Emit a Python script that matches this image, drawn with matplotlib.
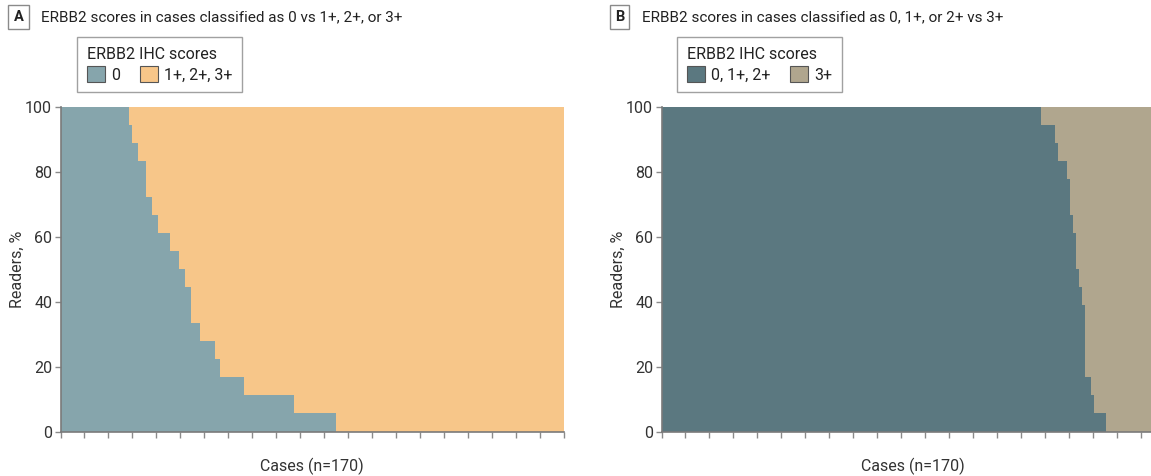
import numpy as np
import matplotlib
matplotlib.use("Agg")
import matplotlib.pyplot as plt
from matplotlib.patches import Patch

plt.rcParams['font.family'] = ['Roboto', 'DejaVu Sans']

N_CASES = 170
N_READERS = 18

# Panel A: number of readers scoring "0" -> how many cases at that level
a_levels = [18, 17, 16, 15, 13, 12, 11, 10, 9, 8, 6, 5, 4, 3, 2, 1, 0]
a_counts = [23, 1, 2, 3, 2, 2, 4, 3, 2, 2, 3, 5, 2, 8, 17, 14, 77]

# Panel B: number of readers scoring "0, 1+, 2+" -> cases at that level
b_levels = [18, 17, 16, 15, 14, 12, 11, 9, 8, 7, 3, 2, 1, 0]
b_counts = [128, 5, 1, 3, 1, 1, 1, 1, 1, 1, 2, 1, 4, 20]

panels = [
    dict(letter="A", title="ERBB2 scores in cases classified as 0 vs 1+, 2+, or 3+",
         levels=a_levels, counts=a_counts, labels=["0", "1+, 2+, 3+"],
         colors=["#86a5ac", "#f7c689"], x0=60.5, legend_x=77, label_x=10),
    dict(letter="B", title="ERBB2 scores in cases classified as 0, 1+, or 2+ vs 3+",
         levels=b_levels, counts=b_counts, labels=["0, 1+, 2+", "3+"],
         colors=["#5b7880", "#b0a68e"], x0=661.5, legend_x=677, label_x=611),
]

W, H = 1151, 476
fig = plt.figure(figsize=(W / 100, H / 100), dpi=100)

for p in panels:
    ax = fig.add_axes([p["x0"] / W, (H - 431.5) / H, 503.5 / W, 324.2 / H])
    pct = np.repeat(np.array(p["levels"]) / N_READERS * 100, p["counts"])
    edges = np.arange(N_CASES + 1)
    ax.stairs(pct, edges, baseline=0, fill=True, color=p["colors"][0], lw=0)
    ax.stairs(np.full(N_CASES, 100.0), edges, baseline=pct, fill=True,
              color=p["colors"][1], lw=0)
    ax.set_xlim(0, N_CASES)
    ax.set_ylim(0, 100)
    ax.set_xticks(np.linspace(0, N_CASES, 22))
    ax.set_xticklabels([])
    ax.set_yticks([0, 20, 40, 60, 80, 100])
    for s in ["top", "right"]:
        ax.spines[s].set_visible(False)
    for s in ["left", "bottom"]:
        ax.spines[s].set_color("#7a7a7a")
        ax.spines[s].set_linewidth(1.2)
    ax.tick_params(direction="out", length=4, width=1, color="#8a8a8a",
                   labelsize=11.5, labelcolor="#333333", pad=2)
    ax.set_ylabel("Readers, %", fontsize=11.5, color="#333333", labelpad=0)
    ax.set_xlabel("Cases (n=170)", fontsize=11.5, color="#333333", labelpad=13)

    # panel letter + title
    fig.text((p["label_x"] + 8.5) / W, (H - 17) / H, p["letter"], fontsize=10.5,
             fontweight="bold", ha="center", va="center", color="#222222",
             bbox=dict(boxstyle="square,pad=0.35", fc="white", ec="#8a8a8a", lw=1))
    fig.text((p["label_x"] + 31) / W, (H - 17) / H, p["title"], fontsize=11,
             ha="left", va="center", color="#222222")

    handles = [Patch(facecolor=c, edgecolor="#555555", lw=0.8) for c in p["colors"]]
    leg = fig.legend(handles, p["labels"], title="ERBB2 IHC scores", ncol=2,
                     loc="upper left", bbox_to_anchor=(p["legend_x"] / W, (H - 37) / H),
                     frameon=True, fancybox=False, fontsize=11.5, title_fontsize=11.5,
                     alignment="left", handlelength=1.15, handleheight=1.15,
                     handletextpad=0.4, columnspacing=1.2, borderpad=0.6,
                     labelspacing=0.3, borderaxespad=0)
    leg.get_frame().set_edgecolor("#8a8a8a")
    leg.get_frame().set_linewidth(1)
    leg.get_title().set_color("#222222")
    for t in leg.get_texts():
        t.set_color("#222222")

fig.savefig("out.png", dpi=100)
